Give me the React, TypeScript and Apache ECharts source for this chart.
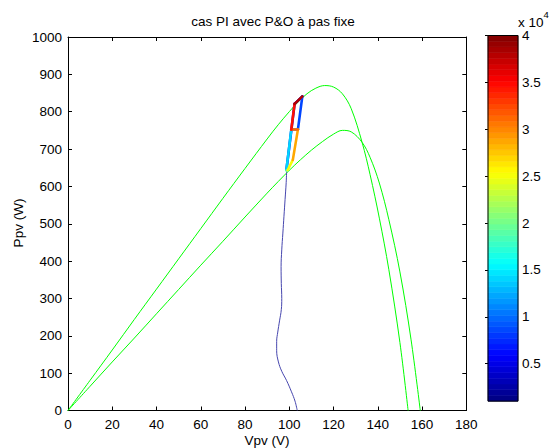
import React, { useEffect, useRef } from "react";
import * as echarts from "echarts";

// ---- data ----
// PV curve A (higher irradiance)
const curveAV = [0, 10, 20, 30, 40, 50, 60, 70, 80, 90, 95, 100, 104, 108, 112, 116, 120, 124, 128, 132.9, 136.5, 140.7, 145, 150, 153.7];
const curveAP = [0, 81, 162, 244, 325, 406, 487, 568, 648, 727, 765, 800, 826, 848, 863, 870, 866, 848, 808, 718, 632, 515, 377, 182, 0];
// PV curve B (lower irradiance)
const curveBV = [0, 10, 20, 30, 40, 50, 60, 70, 80, 90, 95, 100, 105, 110, 115, 120, 124, 128, 132.9, 136.5, 140.7, 145, 150, 155, 159.2];
const curveBP = [0, 65, 130, 194, 259, 324, 389, 453, 518, 582, 613, 643, 671, 697, 720, 740, 750, 746, 718, 678, 609, 511, 371, 191, 0];
// start-up transient of the operating point
const transientV = [103.6, 102.6, 101.0, 98.8, 96.6, 95.1, 94.3, 94.3, 94.8, 95.6, 96.4, 96.6, 96.4, 96.3, 96.6, 97.1, 97.6, 98.1, 98.6, 98.8];
const transientP = [0, 25, 50, 80, 105, 130, 160, 185, 210, 240, 270, 300, 340, 385, 430, 475, 520, 565, 610, 640];
// MPPT trajectory, coloured by time (samples)
const trajV = [98.7, 102.4, 105.9, 103.9, 100.9, 98.7, 99.3, 101.6, 103.9, 100.9, 102.4, 105.9];
const trajP = [644, 821, 841, 752, 752, 644, 644, 671, 752, 752, 821, 841];
const trajT = [4000, 5500, 7000, 10000, 12500, 15500, 23500, 26500, 31000, 31500, 37500, 38500];
// colour bar
const cbarMin = 1000;
const cbarMax = 40000;
const cbarTicks = [5000, 10000, 15000, 20000, 25000, 30000, 35000, 40000];
const cbarLevels = 64;

const FONT = "'Liberation Sans', Arial, Helvetica, sans-serif";
const FS = 13.5;

function clamp(v: number) {
  return Math.max(0, Math.min(1, v));
}
function jet(x: number) {
  const r = clamp(1.5 - Math.abs(4 * x - 3));
  const g = clamp(1.5 - Math.abs(4 * x - 2));
  const b = clamp(1.5 - Math.abs(4 * x - 1));
  const h = (v: number) => Math.round(v * 255).toString(16).padStart(2, "0");
  return "#" + h(r) + h(g) + h(b);
}
function jetT(t: number) {
  return jet((t - cbarMin) / (cbarMax - cbarMin));
}

export default function App() {
  const ref = useRef<HTMLDivElement>(null);
  useEffect(() => {
    if (!ref.current) return;
    const chart = echarts.init(ref.current, undefined, { renderer: "svg" });

    const pairs = (a: number[], b: number[]) => a.map((v, i) => [v, b[i]]);
    const segs: any[] = [];
    for (let i = 0; i < trajV.length - 1; i++) {
      const t = (trajT[i] + trajT[i + 1]) / 2;
      segs.push({
        coords: [
          [trajV[i], trajP[i]],
          [trajV[i + 1], trajP[i + 1]],
        ],
        lineStyle: { color: jetT(t) },
      });
    }
    const bands: number[][] = [];
    for (let i = 0; i < cbarLevels; i++) {
      const lo = cbarMin + (i * (cbarMax - cbarMin)) / cbarLevels;
      const hi = cbarMin + ((i + 1) * (cbarMax - cbarMin)) / cbarLevels;
      bands.push([lo, hi, (i + 0.5) / cbarLevels]);
    }

    const axLine = { show: true, onZero: false, lineStyle: { color: "#000", width: 1 } };
    const tick = { show: true, inside: true, length: 4, lineStyle: { color: "#000" } };
    const lbl = { color: "#000", fontSize: FS, fontFamily: FONT, formatter: (v: number) => String(v) };

    const option: any = {
      animation: false,
      backgroundColor: "#fff",
      grid: [
        { left: 68, right: 83.7, top: 37, bottom: 37.5, containLabel: false },
        { left: 488, width: 30, top: 35.5, bottom: 37.5, containLabel: false },
      ],
      xAxis: [
        {
          type: "value", gridIndex: 0, position: "bottom", min: 0, max: 180, interval: 20,
          axisLine: axLine, axisTick: tick, splitLine: { show: false },
          axisLabel: { ...lbl, margin: 7 },
        },
        {
          type: "value", gridIndex: 0, position: "top", min: 0, max: 180, interval: 20,
          axisLine: axLine, axisTick: tick, splitLine: { show: false }, axisLabel: { show: false },
        },
        {
          type: "value", gridIndex: 1, min: 0, max: 1, show: false,
        },
      ],
      yAxis: [
        {
          type: "value", gridIndex: 0, position: "left", min: 0, max: 1000, interval: 100,
          axisLine: axLine, axisTick: tick, splitLine: { show: false },
          axisLabel: { ...lbl, margin: 6 },
        },
        {
          type: "value", gridIndex: 0, position: "right", min: 0, max: 1000, interval: 100,
          axisLine: axLine, axisTick: tick, splitLine: { show: false }, axisLabel: { show: false },
        },
        {
          type: "value", gridIndex: 1, position: "right", min: 0, max: 40000, interval: 5000,
          axisLine: { show: false },
          axisTick: { show: true, inside: true, length: 3, lineStyle: { color: "#000" }, customValues: cbarTicks },
          splitLine: { show: false },
          axisLabel: {
            color: "#000", fontSize: FS, fontFamily: FONT, margin: 4, customValues: cbarTicks,
            formatter: (v: number) => (v === 0 ? "" : String(v / 10000)),
          },
        },
        {
          type: "value", gridIndex: 1, position: "left", min: 0, max: 40000, interval: 5000,
          axisLine: { show: false },
          axisTick: { show: true, inside: true, length: 3, lineStyle: { color: "#000" }, customValues: cbarTicks },
          splitLine: { show: false },
          axisLabel: { show: false },
        },
      ],
      series: [
        {
          type: "line", xAxisIndex: 0, yAxisIndex: 0, data: pairs(curveAV, curveAP),
          symbol: "none", smooth: 0.35, lineStyle: { color: "#00ff00", width: 1 }, z: 2,
        },
        {
          type: "line", xAxisIndex: 0, yAxisIndex: 0, data: pairs(curveBV, curveBP),
          symbol: "none", smooth: 0.35, lineStyle: { color: "#00ff00", width: 1 }, z: 2,
        },
        {
          type: "line", xAxisIndex: 0, yAxisIndex: 0, data: pairs(transientV, transientP),
          symbol: "none", smooth: 0.4, lineStyle: { color: "#4646ae", width: 1 }, z: 3,
        },
        {
          type: "lines", coordinateSystem: "cartesian2d", xAxisIndex: 0, yAxisIndex: 0,
          data: segs, lineStyle: { width: 2.6, opacity: 1, cap: "round" }, z: 4,
        },
        {
          type: "custom", xAxisIndex: 2, yAxisIndex: 2, data: bands,
          encode: { x: 2, y: [0, 1] },
          renderItem: (_p: any, api: any) => {
            const lo = api.value(0);
            const hi = api.value(1);
            const f = api.value(2);
            const a = api.coord([0, hi]);
            const b = api.coord([1, lo]);
            const c = jet(f);
            return {
              type: "rect",
              shape: { x: a[0], y: a[1], width: b[0] - a[0], height: b[1] - a[1] },
              style: { fill: c, stroke: c, lineWidth: 0.6 },
            };
          },
          z: 2,
        },
        {
          type: "custom", xAxisIndex: 2, yAxisIndex: 2, data: [[cbarMin, cbarMax]],
          encode: { y: [0, 1] },
          renderItem: (_p: any, api: any) => {
            const a = api.coord([0, api.value(1)]);
            const b = api.coord([1, api.value(0)]);
            return {
              type: "rect",
              shape: { x: a[0], y: a[1], width: b[0] - a[0], height: b[1] - a[1] },
              style: { fill: "none", stroke: "#000", lineWidth: 1 },
            };
          },
          z: 5,
        },
      ],
      graphic: [
        {
          type: "text", x: 273, y: 21,
          style: { text: "cas PI avec P&O à pas fixe", fontSize: FS, fontFamily: FONT, fill: "#000", align: "center", verticalAlign: "middle" },
        },
        {
          type: "text", x: 267, y: 440,
          style: { text: "Vpv (V)", fontSize: FS, fontFamily: FONT, fill: "#000", align: "center", verticalAlign: "middle" },
        },
        {
          type: "text", x: 18, y: 223, rotation: Math.PI / 2,
          style: { text: "Ppv (W)", fontSize: FS, fontFamily: FONT, fill: "#000", align: "center", verticalAlign: "middle" },
        },
        {
          type: "text", x: 518, y: 22,
          style: { text: "x 10", fontSize: FS, fontFamily: FONT, fill: "#000", align: "left", verticalAlign: "middle" },
        },
        {
          type: "text", x: 543.5, y: 14,
          style: { text: "4", fontSize: 9.5, fontFamily: FONT, fill: "#000", align: "left", verticalAlign: "middle" },
        },
      ],
    };
    chart.setOption(option);
    return () => chart.dispose();
  }, []);
  return (
    <div
      ref={ref}
      style={{ position: "fixed", left: 0, top: 0, width: 550, height: 448, background: "#fff" }}
    />
  );
}
